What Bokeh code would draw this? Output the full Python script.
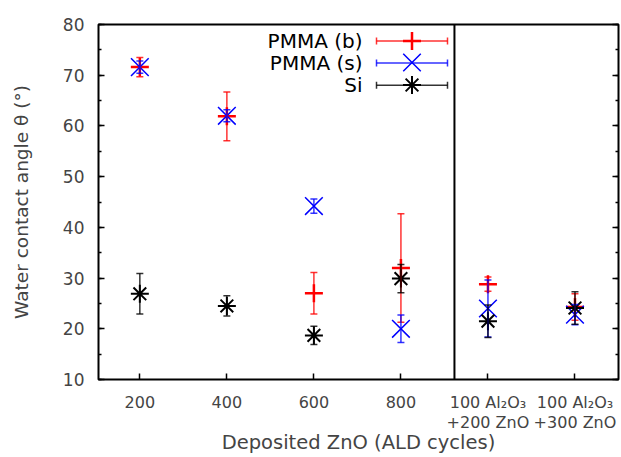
from bokeh.plotting import figure
from bokeh.models import (ColumnDataSource, Whisker, TeeHead, Span, Label, Legend,
                          LegendItem, LinearAxis, FixedTicker, SingleIntervalTicker, Arrow)
from bokeh.embed import file_html
from bokeh.resources import INLINE

# ---- data ----
x_pos = [200, 400, 600, 800, 1000, 1200]
tick_labels = ["200", "400", "600", "800",
               "100 Al\u2082O\u2083\n+200 ZnO", "100 Al\u2082O\u2083\n+300 ZnO"]
separator_x = 923
y_ticks = [10, 20, 30, 40, 50, 60, 70, 80]

pmma_b = [71.6, 61.9, 27.0, 32.0, 28.8, 24.3]
pmma_b_err = [1.9, 4.8, 4.1, 10.7, 1.4, 2.6]
pmma_s = [71.6, 62.0, 44.2, 20.0, 24.0, 22.8]
pmma_s_err = [1.2, 1.2, 1.4, 2.7, 5.6, 2.0]
si = [26.9, 24.5, 18.7, 29.9, 21.5, 24.1]
si_err = [4.0, 2.0, 1.8, 2.8, 3.2, 3.2]

FONT = "DejaVu Sans"
W, H = 621, 457
BL, BT, BB, BR = 98, 24, 78, 3
FH = H - BT - BB  # frame height

p = figure(width=W, height=H, x_range=(105, 1300), y_range=(10, 80),
           output_backend="svg", toolbar_location=None,
           min_border_left=BL, min_border_top=BT, min_border_bottom=BB, min_border_right=BR)
p.grid.visible = False
p.outline_line_color = "black"
p.outline_line_width = 2
p.background_fill_color = "white"
p.border_fill_color = "white"

# axes
ya = p.yaxis[0]
ya.ticker = SingleIntervalTicker(interval=10, num_minor_ticks=2)
ya.axis_label = "Water contact angle \u03b8 (\u00b0)"
ya.axis_label_text_font = FONT
ya.axis_label_text_font_size = "18.5px"
ya.axis_label_text_font_style = "normal"
ya.axis_label_standoff = 28
ya.major_label_text_font = FONT
ya.major_label_text_font_size = "17px"
ya.major_label_standoff = 14
ya.axis_line_color = None
ya.major_tick_in = 6
ya.major_tick_out = 0
ya.minor_tick_in = 3
ya.minor_tick_out = 0
ya.major_tick_line_width = 1.5
ya.minor_tick_line_width = 1.5

ra = LinearAxis(ticker=SingleIntervalTicker(interval=10, num_minor_ticks=2))
ra.major_label_overrides = {v: "" for v in y_ticks}
ra.major_label_text_font_size = "0px"
ra.major_label_standoff = 0
ra.axis_line_color = None
ra.major_tick_in = 6
ra.major_tick_out = 0
ra.minor_tick_in = 3
ra.minor_tick_out = 0
ra.major_tick_line_width = 1.5
ra.minor_tick_line_width = 1.5
p.add_layout(ra, "right")

xa = p.xaxis[0]
xa.ticker = FixedTicker(ticks=x_pos, minor_ticks=[])
xa.major_label_overrides = {x: t for x, t in zip(x_pos, tick_labels)}
xa.axis_label = "Deposited ZnO (ALD cycles)"
xa.axis_label_text_font = FONT
xa.axis_label_text_font_size = "19.5px"
xa.axis_label_text_font_style = "normal"
xa.axis_label_standoff = -4
xa.major_label_text_font = FONT
xa.major_label_text_font_size = "16px"
xa.major_label_text_line_height = 1.1
xa.major_label_standoff = 13
xa.axis_line_color = None
xa.major_tick_in = 6
xa.major_tick_out = 0
xa.major_tick_line_width = 1.5

# separator
p.add_layout(Span(location=separator_x, dimension="height", line_color="black", line_width=2))

series = [
    ("PMMA (b)", pmma_b, pmma_b_err, "#ff0000", "cross", 18, 2.5),
    ("PMMA (s)", pmma_s, pmma_s_err, "#0000ff", "x", 25, 1.5),
    ("Si", si, si_err, "#000000", "asterisk", 18, 2.0),
]

# legend layout (screen px, relative to frame)
row_c = [16.4, 38.4, 60.7]
key_x0, key_x1, text_right = 278, 349, 264

for (name, vals, errs, color, marker, size, lw), rc in zip(series, row_c):
    src = ColumnDataSource(dict(x=x_pos, y=vals,
                                upper=[v + e for v, e in zip(vals, errs)],
                                lower=[v - e for v, e in zip(vals, errs)]))
    w = Whisker(base="x", upper="upper", lower="lower", source=src,
                line_color=color, line_width=1.5, line_alpha=0.8, level="glyph",
                upper_head=TeeHead(size=7, line_color=color, line_width=1.5, line_alpha=0.8),
                lower_head=TeeHead(size=7, line_color=color, line_width=1.5, line_alpha=0.8))
    p.add_layout(w)
    r = p.scatter("x", "y", source=src, marker=marker, size=size, line_color=color,
                  line_width=lw, fill_color=None)

    # legend key: error-bar line with caps, marker, right-aligned text
    yy = FH - rc
    p.add_layout(Arrow(x_start=key_x0, y_start=yy, x_end=key_x1, y_end=yy,
                       start_units="screen", end_units="screen",
                       line_color=color, line_width=1.5, line_alpha=0.8,
                       start=TeeHead(size=7, line_color=color, line_width=1.5, line_alpha=0.8),
                       end=TeeHead(size=7, line_color=color, line_width=1.5, line_alpha=0.8)))
    gh = int(round(size / 0.4))
    leg = Legend(items=[LegendItem(label="", renderers=[r])],
                 location=(key_x0, yy - gh / 2), glyph_width=key_x1 - key_x0, glyph_height=gh,
                 padding=0, margin=0, label_width=0, label_standoff=0, label_height=0,
                 border_line_color=None, background_fill_alpha=0, label_text_font_size="1px")
    p.add_layout(leg)
    p.add_layout(Label(x=text_right, y=yy, x_units="screen", y_units="screen", text=name,
                       text_align="right", text_baseline="middle",
                       text_font=FONT, text_font_size="20px", text_color="black"))

open("out.html", "w").write(file_html(p, INLINE))
